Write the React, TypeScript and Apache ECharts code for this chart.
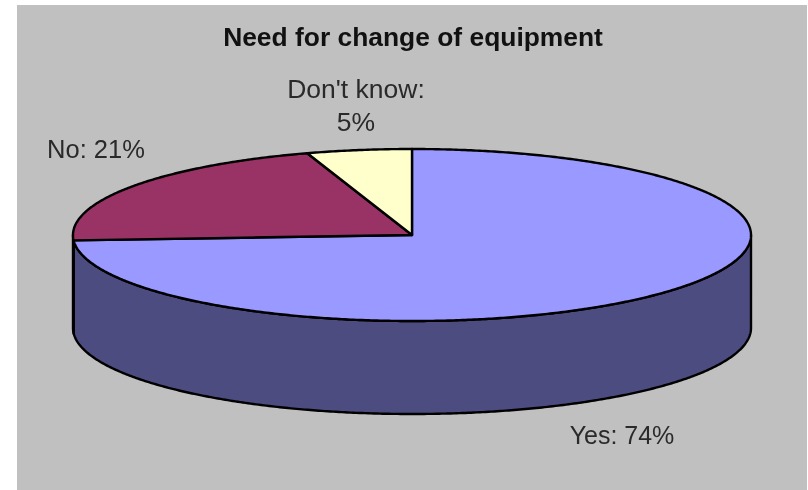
import React, { useEffect, useRef } from "react";
import * as echarts from "echarts";

const titleText = "Need for change of equipment";
const categories = ["Yes", "No", "Don't know"];
const shares = [74, 21, 5];
const labelTexts = ["Yes: 74%", "No: 21%", "Don't know:\n5%"];
const topColors = ["#9999ff", "#993366", "#ffffcc"];
const sideColors = ["#4c4c80", "#4c1a33", "#80805f"];

// layout of the projected pie
const CX = 412;
const CY = 235;
const RX = 339;
const RY = 86;
const DEPTH = 93;
const labelAnchors = [
  [622, 435],
  [96, 149],
  [356, 105],
];
const labelSizes = [25, 25.5, 26.5];

const total = shares.reduce((a, b) => a + b, 0);

function rim(deg: number, dy: number) {
  const r = (deg * Math.PI) / 180;
  return [CX + RX * Math.sin(r), CY - RY * Math.cos(r) + dy];
}

function arcPoints(from: number, to: number, dy: number) {
  const pts: number[][] = [];
  const n = Math.max(1, Math.ceil(Math.abs(to - from) * 2));
  for (let i = 0; i <= n; i++) pts.push(rim(from + ((to - from) * i) / n, dy));
  return pts;
}

function renderItem(params: any, api: any) {
  const i = params.dataIndex;
  let before = 0;
  for (let k = 0; k < i; k++) before += shares[k];
  const value = api.value(0);
  const start = (before / total) * 360;
  const end = ((before + value) / total) * 360;
  const children: any[] = [];
  const sFrom = Math.max(start, 90);
  const sTo = Math.min(end, 270);
  const edge = { stroke: "#000", lineWidth: 2.4, lineJoin: "round" };
  if (sTo > sFrom) {
    children.push({
      type: "polygon",
      z2: 1,
      shape: { points: [...arcPoints(sFrom, sTo, 0), ...arcPoints(sTo, sFrom, DEPTH)] },
      style: { fill: sideColors[i], ...edge },
    });
  }
  children.push({
    type: "polygon",
    z2: 2,
    shape: { points: [[CX, CY], ...arcPoints(start, end, 0)] },
    style: { fill: topColors[i], ...edge },
  });
  children.push({
    type: "text",
    z2: 3,
    x: labelAnchors[i][0],
    y: labelAnchors[i][1],
    style: {
      text: labelTexts[i],
      font: `${labelSizes[i]}px 'Liberation Sans', Arial, sans-serif`,
      fill: "#2a2a2a",
      align: "center",
      verticalAlign: "middle",
      lineHeight: 33,
    },
  });
  return { type: "group", children };
}

export default function App() {
  const ref = useRef<HTMLDivElement>(null);
  useEffect(() => {
    const chart = echarts.init(ref.current!, null, { renderer: "svg" });
    chart.setOption({
      animation: false,
      backgroundColor: "transparent",
      title: {
        text: titleText,
        left: 408,
        top: 19,
        textAlign: "center",
        textStyle: {
          fontFamily: "'Liberation Sans', Arial, sans-serif",
          fontWeight: "bold",
          fontSize: 26.4,
          color: "#111",
        },
      },
      series: [
        {
          type: "custom",
          coordinateSystem: "none",
          clip: false,
          data: categories.map((name, i) => ({ name, value: [shares[i]] })),
          renderItem,
        },
      ],
    });
    return () => chart.dispose();
  }, []);
  return (
    <div style={{ position: "absolute", left: 0, top: 0, width: 808, height: 490, background: "#fff", overflow: "hidden" }}>
      <div style={{ position: "absolute", left: 17, top: 5, width: 790, height: 490, background: "#c0c0c0" }} />
      <div ref={ref} style={{ position: "absolute", left: 0, top: 0, width: 808, height: 490, filter: "blur(0.7px)" }} />
    </div>
  );
}
